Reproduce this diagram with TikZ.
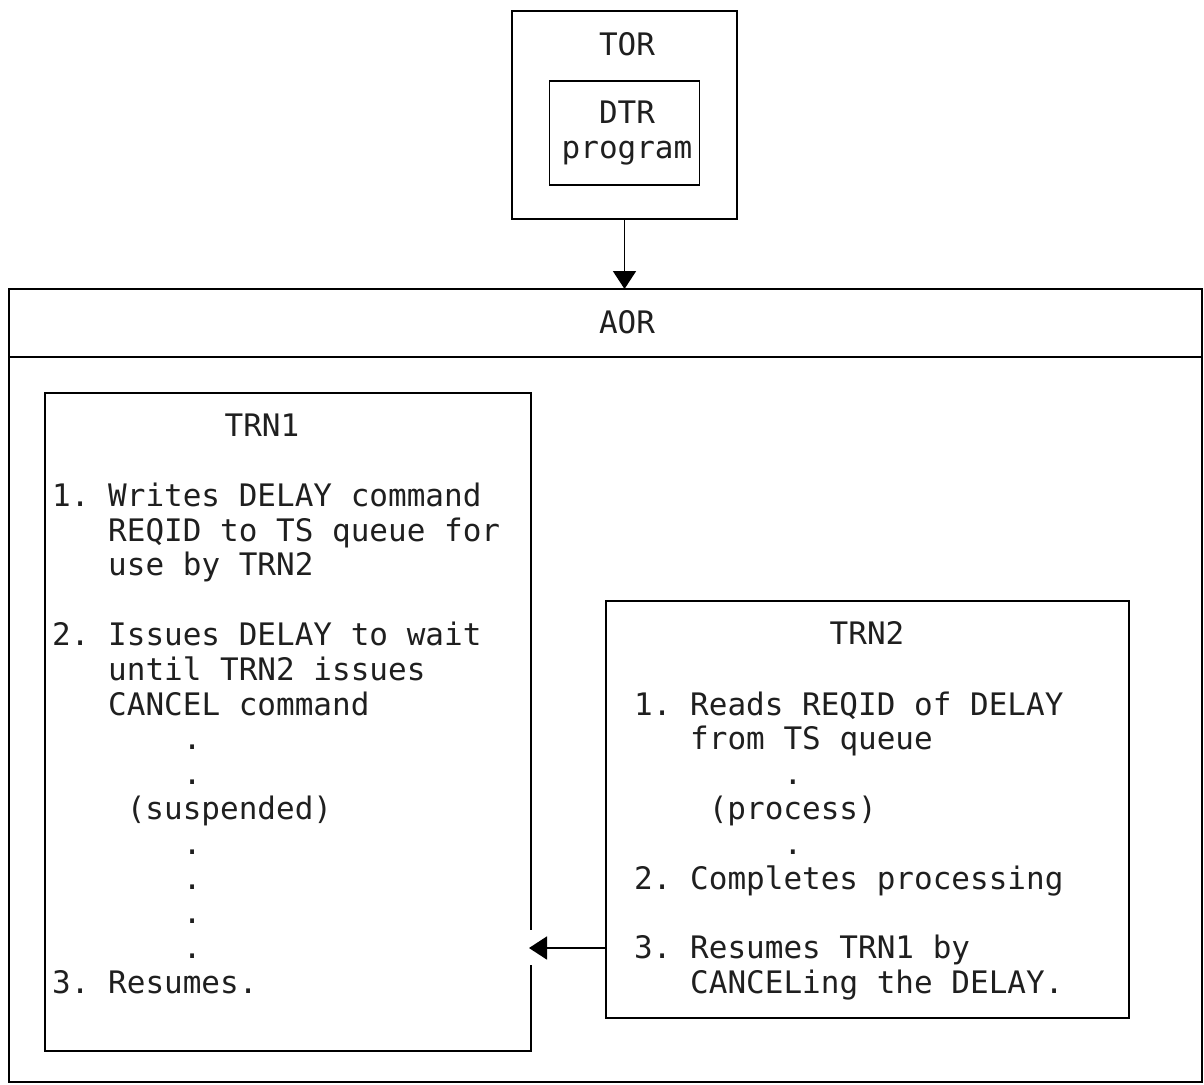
\documentclass[tikz,border=0pt]{standalone}
\usepackage{fontspec}
\newfontfamily\monof{DejaVu Sans Mono}
\usetikzlibrary{arrows.meta}
\begin{document}
\begin{tikzpicture}[x=1pt,y=-1pt,
  box/.style={draw=black, line width=1.8pt, inner sep=0pt, outer sep=0pt},
  txt/.style={font=\monof\fontsize{31}{34.8}\selectfont\frenchspacing, text=black!88, inner sep=0pt, anchor=base west},
  ttl/.style={font=\monof\fontsize{31}{34.8}\selectfont\frenchspacing, text=black!88, inner sep=0pt, anchor=base},
  arr/.style={draw=black, line width=1.8pt, -{Triangle[width=23pt,length=18pt]}}]
\useasboundingbox (0,0) rectangle (1204,1084);
% boxes
\node[box, minimum width=1193pt, minimum height=793pt] (aor) at (605.5,685.5) {};
\coordinate (hdl) at (9,357);
\coordinate (hdr) at (1202,357);
\draw[line width=1.8pt] (hdl) -- (hdr);
\node[box, minimum width=225pt, minimum height=208pt] (tor) at (624.5,115) {};
\node[box, minimum width=150pt, minimum height=104pt] (dtr) at (624.5,133) {};
\node[box, minimum width=486pt, minimum height=658pt] (trn1) at (288,722) {};
\node[box, minimum width=523pt, minimum height=417pt] (trn2) at (867.5,809.5) {};
% titles
\node[ttl] (tortitle) at (627,55) {TOR};
\node[ttl] (dtrtitle) at (627,123) {DTR};
\node[ttl] (dtrtitleb) at (627,158) {program};
\node[ttl] (aortitle) at (627,333) {AOR};
\node[ttl] (trn1title) at (262,436) {TRN1};
\node[ttl] (trn2title) at (867,644) {TRN2};
% TRN1 text
\node[txt] (a0) at (52,506.3) {1. Writes DELAY command};
\node[txt] (a1) at (108,541.1) {REQID to TS queue for};
\node[txt] (a2) at (108,575.9) {use by TRN2};
\node[txt] (a4) at (52,645.5) {2. Issues DELAY to wait};
\node[txt] (a5) at (108,680.3) {until TRN2 issues};
\node[txt] (a6) at (108,715.1) {CANCEL command};
\node[txt] (a7) at (182.6,749.9) {.};
\node[txt] (a8) at (182.6,784.7) {.};
\node[txt] (a9) at (126.6,819.5) {(suspended)};
\node[txt] (a10) at (182.6,854.3) {.};
\node[txt] (a11) at (182.6,889.1) {.};
\node[txt] (a12) at (182.6,923.9) {.};
\node[txt] (a13) at (182.6,958.7) {.};
\node[txt] (a14) at (52,993.5) {3. Resumes.};
% TRN2 text
\node[txt] (b6) at (634,715.1) {1. Reads REQID of DELAY};
\node[txt] (b7) at (690,749.9) {from TS queue};
\node[txt] (b8) at (783.3,784.7) {.};
\node[txt] (b9) at (708.6,819.5) {(process)};
\node[txt] (b10) at (783.3,854.3) {.};
\node[txt] (b11) at (634,889.1) {2. Completes processing};
\node[txt] (b13) at (634,958.7) {3. Resumes TRN1 by};
\node[txt] (b14) at (690,993.5) {CANCELing the DELAY.};
% connectors
\draw[arr] (tor.south) -- (tor.south |- aor.north);
\coordinate (gapa) at (528,930);
\coordinate (gapb) at (535,965);
\fill[white] (gapa) rectangle (gapb);
\coordinate (s3) at (606,948);
\draw[arr, shorten >=-2pt] (s3) -- (s3 -| trn1.east);
\end{tikzpicture}
\end{document}
